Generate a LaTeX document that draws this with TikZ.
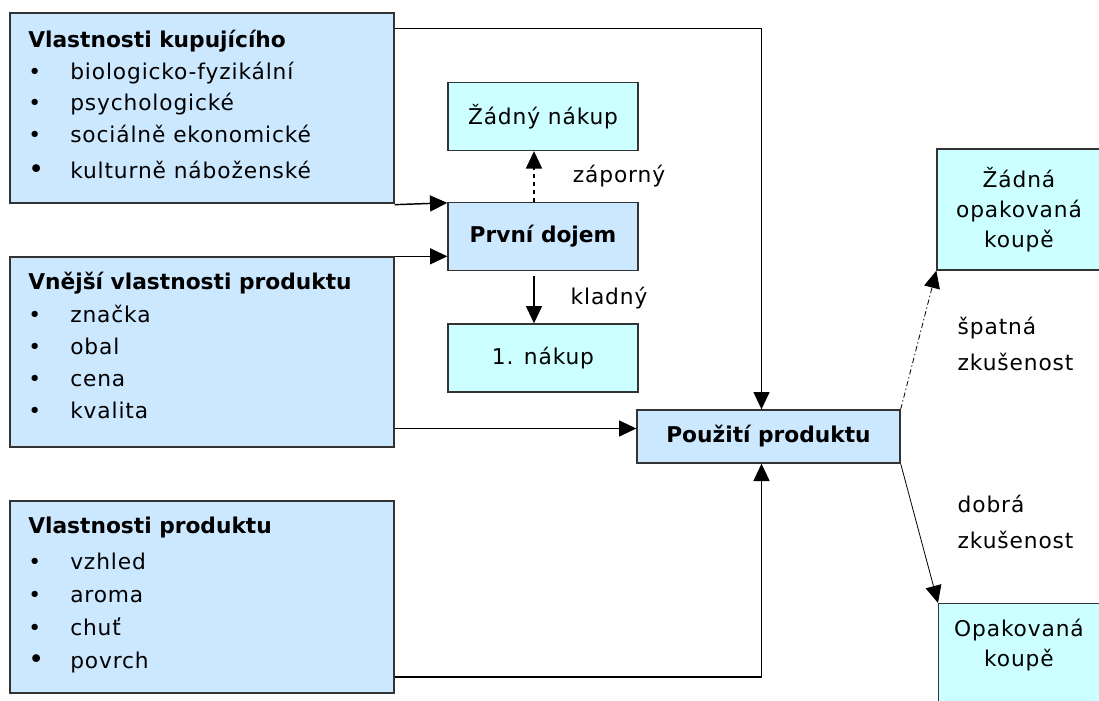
\documentclass[tikz,border=0pt]{standalone}
\usepackage{fontspec}
\setmainfont{DejaVu Sans}[LetterSpace=4, BoldFeatures={LetterSpace=0}]
\usetikzlibrary{arrows.meta,calc}

\definecolor{modra}{RGB}{204,232,255}
\definecolor{tyrkys}{RGB}{204,255,255}

\tikzset{
  ramec/.style={draw=black!80, line width=1pt, inner sep=0pt},
  velky/.style={ramec, fill=modra, minimum width=288pt, minimum height=142.5pt},
  maly/.style={ramec, fill=tyrkys, minimum width=142.5pt, minimum height=51pt, align=center},
  polozka/.style={anchor=base west, inner sep=0pt},
  sipka/.style={line width=1.1pt, -{Triangle[length=13pt,width=12pt]}},
}

\newcommand{\odr}{\makebox[31.5pt][l]{•}}
\newcommand{\odrvelka}{\makebox[31.5pt][l]{\fontsize{20}{20}\selectfont •}}

\begin{document}
\begin{tikzpicture}[x=0.75pt, y=-0.75pt, font=\fontsize{16.3}{22.5}\selectfont]
  \useasboundingbox (0,0) rectangle (1099,700);

  % left column
  \node (kupujici) at (202,108) [velky] {};
  \node (vnejsi) at (202,352) [velky] {};
  \node (produkt) at (202,597) [velky, minimum height=144pt] {};

  \node[polozka] at (28,47) {\textbf{Vlastnosti kupujícího}};
  \node[polozka] at (28,79) {\odr biologicko-fyzikální};
  \node[polozka] at (28,110) {\odr psychologické};
  \node[polozka] at (28,142) {\odr sociálně ekonomické};
  \node[polozka] at (28,178) {\odrvelka kulturně náboženské};

  \node[polozka] at (28,289) {\textbf{Vnější vlastnosti produktu}};
  \node[polozka] at (28,322) {\odr značka};
  \node[polozka] at (28,354) {\odr obal};
  \node[polozka] at (28,386) {\odr cena};
  \node[polozka] at (28,418) {\odr kvalita};

  \node[polozka] at (28,533) {\textbf{Vlastnosti produktu}};
  \node[polozka] at (28,569) {\odr vzhled};
  \node[polozka] at (28,602) {\odr aroma};
  \node[polozka] at (28,635) {\odr chuť};
  \node[polozka] at (28,668) {\odrvelka povrch};

  % middle
  \node (zadny) at (543,116.5) [maly] {Žádný nákup};
  \node (dojem) at (543,236.5) [maly, fill=modra] {\textbf{První dojem}};
  \node (nakup) at (543,358) [maly] {1. nákup};
  \node (pouziti) at (768.5,436.5) [ramec, fill=modra, minimum width=197.25pt, minimum height=39.75pt] {\textbf{Použití produktu}};

  % right
  \node (zadnaopak) at (1019,209.5) [maly, minimum width=123pt, minimum height=90.75pt] {Žádná\\opakovaná\\koupě};
  \node (opak) at (938,603) [ramec, fill=tyrkys, anchor=north west, minimum width=123pt, minimum height=75pt] {};
  \node (opaktext) at (1019,645) [align=center] {Opakovaná\\koupě};

  % labels
  \node (zaporny) at (619,176) {záporný};
  \node (kladny) at (609,298) {kladný};
  \node (spatna) at (953,344) [anchor=west, align=left] {špatná\\[4.5pt]zkušenost};
  \node (dobra) at (953,522) [anchor=west, align=left] {dobrá\\[4.5pt]zkušenost};

  % connectors
  \draw[sipka] ($(kupujici.north east)+(0,16)$) -| ($(pouziti.north)+(-7,0)$);
  \draw[sipka] ($(kupujici.south east)+(0,1)$) -- ($(dojem.north west)+(0,1)$);
  \draw[sipka] (vnejsi.north east) -- (vnejsi.north east -| dojem.west);
  \coordinate (vstup) at ($(pouziti.west)+(0,-8)$);
  \draw[sipka] (vnejsi.east |- vstup) -- (vstup);
  \draw[sipka] ($(produkt.east)+(0,80)$) -| ($(pouziti.south)+(-7,0)$);
  \draw[sipka, dashed] ($(dojem.north)+(-9,0)$) -- ($(zadny.south)+(-9,0)$);
  \draw[sipka] ($(dojem.south)+(-9,5)$) -- ($(nakup.north)+(-9,0)$);
  \draw[sipka, line width=0.6pt, dash pattern=on 4pt off 2pt on 1pt off 2pt] (pouziti.north east) -- (zadnaopak.south west);
  \draw[sipka, line width=0.6pt] (pouziti.south east) -- (opak.north west);
\end{tikzpicture}
\end{document}
